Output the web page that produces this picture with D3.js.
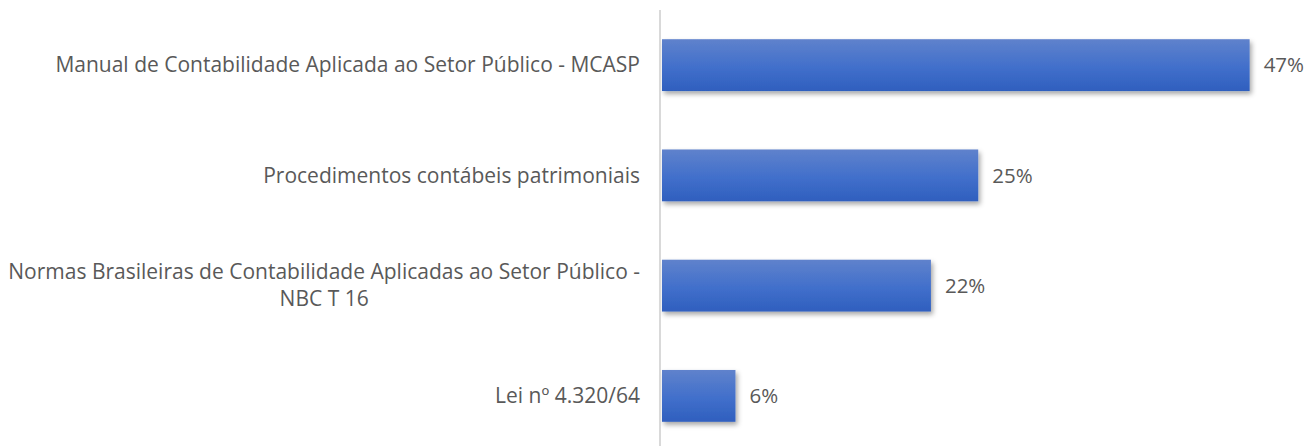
<!DOCTYPE html>
<html>
<head>
<meta charset="utf-8">
<script src="https://cdn.jsdelivr.net/npm/d3@7"></script>
<style>
  body { margin: 0; background: #fff; }
  text { font-family: "Open Sans", Lato, sans-serif; fill: #595959; }
</style>
</head>
<body>
<svg width="1310" height="446"></svg>
<script>
const categories = [
  ['Manual de Contabilidade Aplicada ao Setor Público - MCASP'],
  ['Procedimentos contábeis patrimoniais'],
  ['Normas Brasileiras de Contabilidade Aplicadas ao Setor Público -', 'NBC T 16'],
  ['Lei nº 4.320/64']
]
const values = [0.472, 0.254, 0.216, 0.059]

const svg = d3.select('svg'),
width = +svg.attr('width'),
height = +svg.attr('height')

const data = categories.map((c, i) => ({ lines: c, value: values[i], key: i }))

const x = d3.scaleLinear().domain([0, 0.5]).range([662, 1284.5])
const y = d3.scaleBand()
  .domain(data.map(d => d.key))
  .range([10, 451])
  .paddingInner(0.53)
  .paddingOuter(0.265)

const defs = svg.append('defs')
const grad = defs.append('linearGradient')
  .attr('id', 'barGrad')
  .attr('x1', 0).attr('y1', 0).attr('x2', 0).attr('y2', 1)
grad.append('stop').attr('offset', '0%').attr('stop-color', '#5f82cc')
grad.append('stop').attr('offset', '55%').attr('stop-color', '#416fcb')
grad.append('stop').attr('offset', '100%').attr('stop-color', '#2f5fbe')

const shadow = defs.append('filter')
  .attr('id', 'shadow')
  .attr('x', '-10%').attr('y', '-20%').attr('width', '130%').attr('height', '160%')
shadow.append('feDropShadow')
  .attr('dx', 2).attr('dy', 3).attr('stdDeviation', 2.5)
  .attr('flood-color', '#000').attr('flood-opacity', 0.35)

svg.append('g')
  .attr('class', 'bars')
  .selectAll('rect')
  .data(data)
  .enter()
  .append('rect')
  .attr('x', x(0))
  .attr('y', d => y(d.key))
  .attr('width', d => x(d.value) - x(0))
  .attr('height', y.bandwidth())
  .attr('fill', 'url(#barGrad)')
  .attr('filter', 'url(#shadow)')

// axis line
svg.append('line')
  .attr('x1', 660).attr('x2', 660)
  .attr('y1', 10).attr('y2', height)
  .style('stroke', '#d9d9d9')
  .attr('stroke-width', 2)

svg.append('g')
  .attr('class', 'values')
  .selectAll('text')
  .data(data)
  .enter()
  .append('text')
  .attr('x', d => x(d.value) + 14)
  .attr('y', d => y(d.key) + y.bandwidth() / 2)
  .attr('dy', '0.35em')
  .style('font-size', '20.5px')
  .text(d => d3.format('.0%')(d.value))

const lineH = 27
const labels = svg.append('g')
  .attr('class', 'labels')
  .selectAll('text')
  .data(data)
  .enter()
  .append('text')
  .style('font-size', '21px')
  .attr('text-anchor', 'middle')

labels.each(function(d) {
  const t = d3.select(this)
  const cy = y(d.key) + y.bandwidth() / 2
  const y0 = cy - (d.lines.length - 1) * lineH / 2
  d.lines.forEach((l, i) => {
    t.append('tspan').attr('y', y0 + i * lineH).attr('dy', '0.35em').text(l)
  })
  let maxW = 0
  t.selectAll('tspan').each(function() { maxW = Math.max(maxW, this.getComputedTextLength()) })
  t.selectAll('tspan').attr('x', 640 - maxW / 2)
})
</script>
</body>
</html>
